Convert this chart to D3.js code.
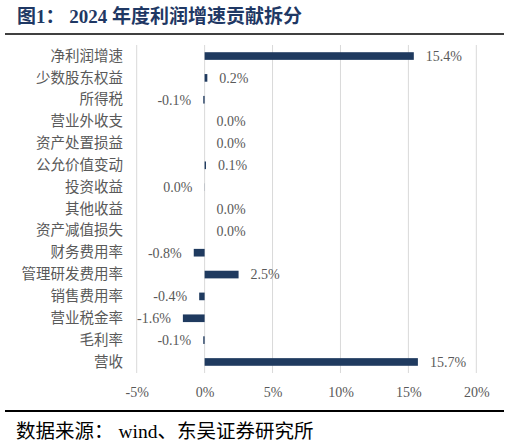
<!DOCTYPE html>
<html>
<head>
<meta charset="utf-8">
<script src="https://cdn.jsdelivr.net/npm/d3@7"></script>
<style>
  html, body { margin: 0; padding: 0; background: #fff; }
  svg { display: block; }
</style>
</head>
<body>
<div class="chart"></div>
<script>
;(function() {
  'use strict';

  var categories = ['净利润增速', '少数股东权益', '所得税', '营业外收支', '资产处置损益',
    '公允价值变动', '投资收益', '其他收益', '资产减值损失', '财务费用率',
    '管理研发费用率', '销售费用率', '营业税金率', '毛利率', '营收'];
  var values = [15.4, 0.2, -0.1, 0.0, 0.0, 0.1, -0.01, 0.0, 0.0, -0.8, 2.5, -0.4, -1.6, -0.1, 15.7];
  var ticks = [-5, 0, 5, 10, 15, 20];
  var title = '图1： 2024 年度利润增速贡献拆分';
  var source = '数据来源： wind、东吴证券研究所';

  var width = 509, height = 444;
  var cjk = '"Noto Sans CJK SC", sans-serif';
  var num = '"Liberation Serif", "Times New Roman", serif';
  var barColor = '#1f3a5f';
  var textColor = '#595959';

  var svg = d3.select('.chart').append('svg')
    .attr('width', width)
    .attr('height', height);

  // header
  svg.append('text')
    .attr('x', 17).attr('y', 23)
    .attr('fill', '#1f3864')
    .style('font-family', num + ',' + cjk)
    .style('font-weight', 'bold')
    .style('font-size', '19px')
    .text(title);
  svg.append('line')
    .attr('x1', 5).attr('x2', 504).attr('y1', 34).attr('y2', 34)
    .attr('stroke', '#000').attr('stroke-width', 1.6);

  var x = d3.scaleLinear().domain([-5, 20]).range([136.7, 476.3]);
  var y = d3.scaleBand().domain(categories).range([45, 373]).paddingInner(0.65).paddingOuter(0.33);

  // grid
  svg.append('g').selectAll('line')
    .data(ticks)
    .enter().append('line')
    .attr('x1', function(d) { return x(d); })
    .attr('x2', function(d) { return x(d); })
    .attr('y1', 45).attr('y2', 373)
    .attr('stroke', '#d9d9d9').attr('stroke-width', 1);

  // x axis labels
  var xAxis = d3.axisBottom(x).tickValues(ticks).tickSize(0).tickPadding(0)
    .tickFormat(function(d) { return d + '%'; });
  var gx = svg.append('g').attr('transform', 'translate(0,387)').call(xAxis);
  gx.select('.domain').remove();
  gx.selectAll('text')
    .attr('fill', textColor)
    .style('font-family', num)
    .style('font-size', '14px');

  // category labels
  var yAxis = d3.axisLeft(y).tickSize(0).tickPadding(0);
  var gy = svg.append('g').attr('transform', 'translate(123,0)').call(yAxis);
  gy.select('.domain').remove();
  gy.selectAll('text')
    .attr('fill', textColor)
    .style('font-family', cjk)
    .style('font-size', '14.5px');

  // bars
  svg.append('g').selectAll('rect')
    .data(values)
    .enter().append('rect')
    .attr('x', function(d) { return x(Math.min(0, d)); })
    .attr('y', function(d, i) { return y(categories[i]); })
    .attr('width', function(d) { return Math.abs(x(d) - x(0)); })
    .attr('height', y.bandwidth())
    .attr('fill', barColor);

  // value labels
  function fmt(d) {
    return (Math.round(d * 10) / 10 || 0).toFixed(1) + '%';
  }
  svg.append('g').selectAll('text')
    .data(values)
    .enter().append('text')
    .attr('x', function(d) { return d < 0 ? x(d) - 12 : x(d) + 12; })
    .attr('y', function(d, i) { return y(categories[i]) + y.bandwidth() / 2; })
    .attr('dy', '0.35em')
    .attr('text-anchor', function(d) { return d < 0 ? 'end' : 'start'; })
    .attr('fill', textColor)
    .style('font-family', num)
    .style('font-size', '14px')
    .text(fmt);

  // footer
  svg.append('line')
    .attr('x1', 5).attr('x2', 504).attr('y1', 411).attr('y2', 411)
    .attr('stroke', '#000').attr('stroke-width', 2);
  svg.append('text')
    .attr('x', 16).attr('y', 438)
    .attr('fill', '#000')
    .style('font-family', num + ',' + cjk)
    .style('font-size', '19.5px')
    .text(source);
})();
</script>
</body>
</html>
